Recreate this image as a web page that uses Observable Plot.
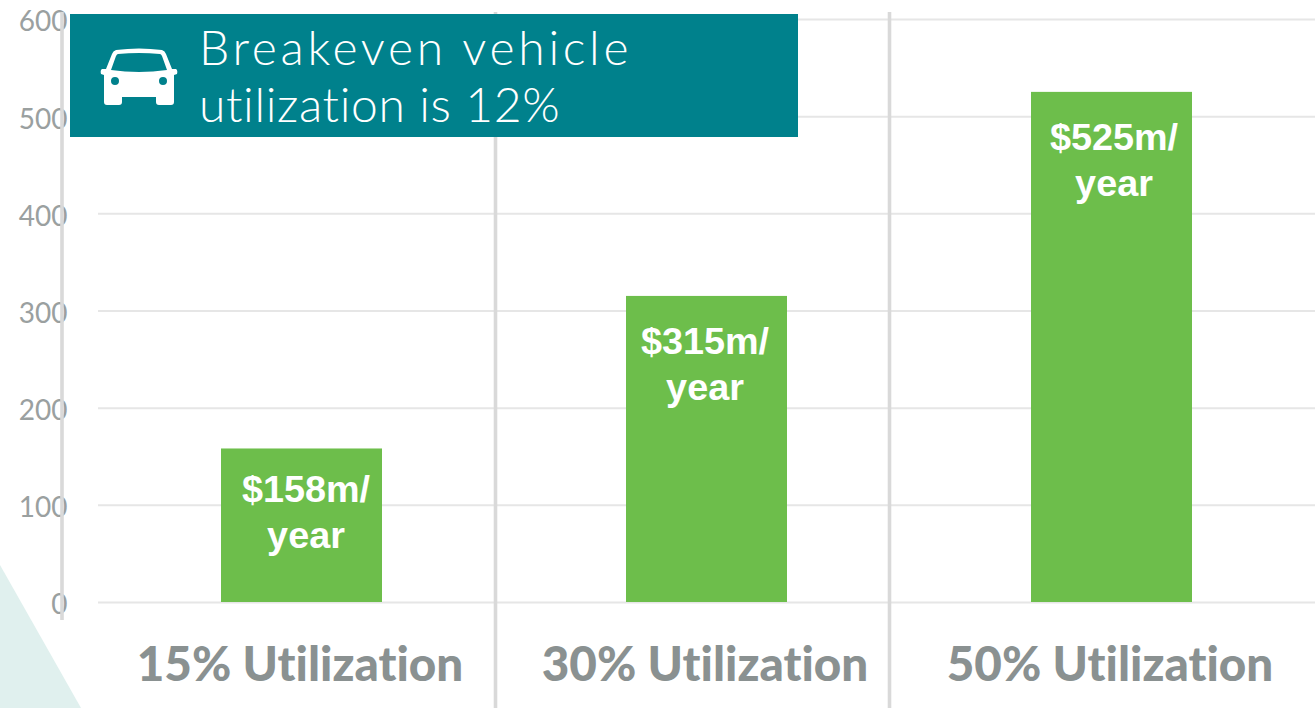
<!DOCTYPE html>
<html><head><meta charset="utf-8">
<script src="https://cdn.jsdelivr.net/npm/d3@7"></script>
<script src="https://cdn.jsdelivr.net/npm/@observablehq/plot@0.6"></script>
<style>
html,body{margin:0;padding:0;background:#fff;overflow:hidden}
#wrap{position:relative;width:1315px;height:708px}
#wrap>svg{position:absolute;left:0;top:0}
#wrap text{font-variant-ligatures:none}
#banner{position:absolute;left:70px;top:14px;width:728px;height:123px;background:#00818c;color:#fff;font:300 48px/57px Lato,sans-serif;font-variant-ligatures:none}
#banner .l1,#banner .l2{position:absolute;left:129px;white-space:nowrap}
#banner .l1{top:4px;letter-spacing:3.7px}
#banner .l2{top:61px;letter-spacing:.65px}
#banner svg{position:absolute;left:30px;top:34px}
</style></head><body><div id="wrap"></div>
<script>
const categories = ["15% Utilization","30% Utilization","50% Utilization"];
const values = [158,315,525];
const barLabels = ["$158m/\nyear","$315m/\nyear","$525m/\nyear"];
const yTicks = [0,100,200,300,400,500,600];
const rows = categories.map((c,i)=>({c,v:values[i],l:barLabels[i]}));
const nudges = [[4,20],[-2,25],[2,25]];

const chart = Plot.plot({
  width:1315,height:708,marginLeft:98,marginRight:0,marginTop:19,marginBottom:106,
  style:{background:"transparent",overflow:"visible"},
  x:{domain:categories,paddingInner:0.603,paddingOuter:0.3015,label:null},
  y:{domain:[0,600],label:null},
  marks:[
    Plot.gridY(yTicks,{stroke:"#e6e6e6",strokeWidth:2,strokeOpacity:1}),
    Plot.barY(rows,{x:"c",y:"v",fill:"#6dbe4b"}),
    rows.map((r,i)=>Plot.text([r],{x:"c",y:"v",text:"l",fill:"#fff",fontSize:37.8,fontWeight:700,fontFamily:"Liberation Sans",lineAnchor:"top",lineHeight:1.217,dx:nudges[i][0],dy:nudges[i][1]})),
    Plot.axisY({ticks:yTicks,tickSize:0,tickPadding:31,dy:3,fontSize:28,fontFamily:"Lato",fill:"#9aa0a0",label:null}),
    Plot.axisX({tickSize:0,tickPadding:45,dx:-2,fontSize:47.6,fontWeight:900,fontFamily:"Lato",fill:"#8a9191",label:null})
  ]
});
const wrap=document.getElementById("wrap");
const deco=`<svg width="1315" height="708" xmlns="http://www.w3.org/2000/svg">
<path d="M0 565L81 708L0 708Z" fill="#e0f0ee"/></svg>`;
wrap.innerHTML=deco;
chart.style.position="absolute";chart.style.left="0";chart.style.top="0";
wrap.appendChild(chart);
const over=`<svg width="1315" height="708" xmlns="http://www.w3.org/2000/svg" style="position:absolute;left:0;top:0">
<g stroke="#d9d9d9" stroke-width="3.6"><path d="M62 12V620"/><path d="M495.5 12V708"/><path d="M889.5 12V708"/></g></svg>`;
wrap.insertAdjacentHTML("beforeend",over);
const banner=document.createElement("div");banner.id="banner";
banner.innerHTML=`<svg width="78" height="58" viewBox="0 0 78 58" fill="#fff"><path fill-rule="evenodd" d="M16 2Q39-1 62 2Q65 3 66 6L72 21H76Q78 22 77 26L74 27V54Q74 57 71 57H59Q56 57 56 54V49H22V54Q22 57 19 57H7Q4 57 4 54V27L1 26Q0 22 2 21H6L12 6Q13 3 16 2ZM18 6Q17 6 16 8L11 22Q39 26 67 22L62 8Q61 6 60 6Q39 4 18 6ZM15 29A4 4 0 1 0 15 37A4 4 0 1 0 15 29ZM63 29A4 4 0 1 0 63 37A4 4 0 1 0 63 29Z"/></svg><div class="l1">Breakeven vehicle</div><div class="l2">utilization is 12%</div>`;
wrap.appendChild(banner);
</script></body></html>
